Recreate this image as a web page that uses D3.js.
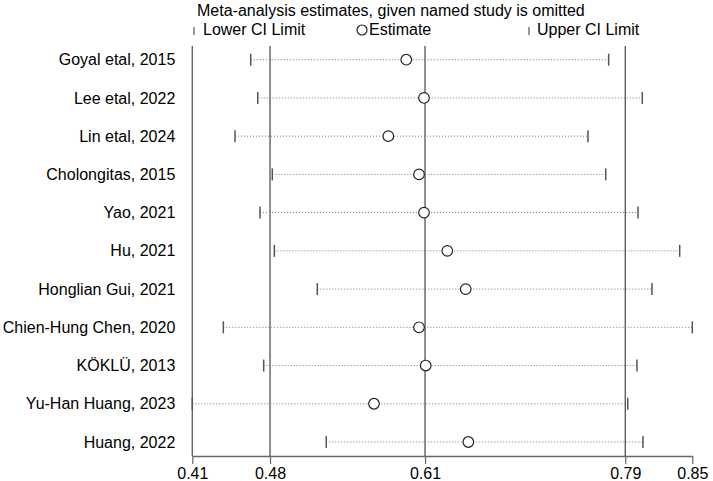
<!DOCTYPE html>
<html>
<head>
<meta charset="utf-8">
<script src="https://cdn.jsdelivr.net/npm/d3@7"></script>
<style>
  body { margin: 0; background: #fff; }
  text { font-family: "Liberation Sans", Arial, sans-serif; }
</style>
</head>
<body>
<svg id="chart"></svg>
<script>
// studies (omitted one at a time)
var studies = [
  "Goyal etal, 2015",
  "Lee etal, 2022",
  "Lin etal, 2024",
  "Cholongitas, 2015",
  "Yao, 2021",
  "Hu, 2021",
  "Honglian Gui, 2021",
  "Chien-Hung Chen, 2020",
  "KÖKLÜ, 2013",
  "Yu-Han Huang, 2023",
  "Huang, 2022",
];
var lowerCI = [0.4614, 0.4676, 0.4476, 0.4804, 0.4696, 0.4822, 0.52, 0.4373, 0.4728, 0.41, 0.5279];
var estimate = [0.5983, 0.6139, 0.5825, 0.6095, 0.6139, 0.6344, 0.6506, 0.6095, 0.6154, 0.5699, 0.6529];
var upperCI = [0.7764, 0.806, 0.7582, 0.7738, 0.8022, 0.8389, 0.8145, 0.85, 0.8013, 0.7932, 0.8066];

// overall estimate and its CI (reference lines)
var overall = [0.4784, 0.6148, 0.791];
// x axis ticks
var tickValues = [0.41, 0.4784, 0.6148, 0.791, 0.85];
var tickLabels = ["0.41", "0.48", "0.61", "0.79", "0.85"];

var title = "Meta-analysis estimates, given named study is omitted";

var data = studies.map((s, i) => ({
  study: s,
  lo: lowerCI[i],
  est: estimate[i],
  hi: upperCI[i],
}));

var outerWidth = 713;
var outerHeight = 481;
var margin = { top: 46, left: 192.3, right: 20.7, bottom: 25 };
var width = outerWidth - margin.left - margin.right;
var height = outerHeight - margin.top - margin.bottom;

var svg = d3.select("#chart").attr("width", outerWidth).attr("height", outerHeight);
var cg = svg
  .append("g")
  .attr("transform", "translate(" + margin.left + "," + margin.top + ")");

var x = d3.scaleLinear().domain([0.41, 0.85]).range([0, width]);
var y = d3.scalePoint().domain(studies).range([13.7, 396]);

var grey = "#666";

// x axis
var xAxis = d3
  .axisBottom(x)
  .tickValues(tickValues)
  .tickFormat((d, i) => tickLabels[i])
  .tickSize(8)
  .tickSizeOuter(0)
  .tickPadding(4);
var gx = cg.append("g").attr("transform", `translate(0,${height})`).call(xAxis);
gx.select(".domain").attr("stroke", grey).attr("stroke-width", 1.4);
gx.selectAll(".tick line").attr("stroke", grey).attr("stroke-width", 1.2);
gx.selectAll(".tick text")
  .attr("fill", "#000")
  .style("font-size", "16px");

// y axis line
cg.append("line")
  .attr("x1", 0)
  .attr("x2", 0)
  .attr("y1", 0)
  .attr("y2", height)
  .attr("stroke", grey)
  .attr("stroke-width", 1.4);

// study labels
cg.selectAll(".label")
  .data(data)
  .enter()
  .append("text")
  .attr("class", "label")
  .attr("x", -17)
  .attr("y", (d) => y(d.study))
  .attr("dy", "0.35em")
  .attr("text-anchor", "end")
  .style("font-size", "16px")
  .text((d) => d.study);

// reference lines
cg.selectAll(".ref")
  .data(overall)
  .enter()
  .append("line")
  .attr("class", "ref")
  .attr("x1", (d) => x(d))
  .attr("x2", (d) => x(d))
  .attr("y1", 0)
  .attr("y2", height)
  .attr("stroke", "#444")
  .attr("stroke-width", 1.2);

var rows = cg.selectAll(".row").data(data).enter().append("g").attr("class", "row");

rows
  .append("line")
  .attr("x1", (d) => x(d.lo))
  .attr("x2", (d) => x(d.hi))
  .attr("y1", (d) => y(d.study))
  .attr("y2", (d) => y(d.study))
  .attr("stroke", "#777")
  .attr("stroke-width", 1)
  .attr("stroke-dasharray", "1,2");

rows
  .append("line")
  .attr("x1", (d) => x(d.lo))
  .attr("x2", (d) => x(d.lo))
  .attr("y1", (d) => y(d.study) - 6)
  .attr("y2", (d) => y(d.study) + 6)
  .attr("stroke", "#555")
  .attr("stroke-width", 1.5);

rows
  .append("line")
  .attr("x1", (d) => x(d.hi))
  .attr("x2", (d) => x(d.hi))
  .attr("y1", (d) => y(d.study) - 6)
  .attr("y2", (d) => y(d.study) + 6)
  .attr("stroke", "#555")
  .attr("stroke-width", 1.5);

rows
  .append("circle")
  .attr("cx", (d) => x(d.est))
  .attr("cy", (d) => y(d.study))
  .attr("r", 5.3)
  .attr("fill", "#fff")
  .attr("stroke", "#222")
  .attr("stroke-width", 1.2);

// title and legend
svg
  .append("text")
  .attr("x", 197)
  .attr("y", 15.5)
  .style("font-size", "16px")
  .text(title);

var legend = svg.append("g").attr("transform", "translate(0,35)");
legend.append("line")
  .attr("x1", 194).attr("x2", 194).attr("y1", -8).attr("y2", 0)
  .attr("stroke", "#555").attr("stroke-width", 1.2);
legend.append("text").attr("x", 203).attr("y", 0).style("font-size", "16px").text("Lower CI Limit");
legend.append("circle")
  .attr("cx", 362).attr("cy", -5).attr("r", 5)
  .attr("fill", "#fff").attr("stroke", "#222").attr("stroke-width", 1.2);
legend.append("text").attr("x", 369).attr("y", 0).style("font-size", "16px").text("Estimate");
legend.append("line")
  .attr("x1", 529).attr("x2", 529).attr("y1", -8).attr("y2", 0)
  .attr("stroke", "#555").attr("stroke-width", 1.2);
legend.append("text").attr("x", 537).attr("y", 0).style("font-size", "16px").text("Upper CI Limit");
</script>
</body>
</html>
